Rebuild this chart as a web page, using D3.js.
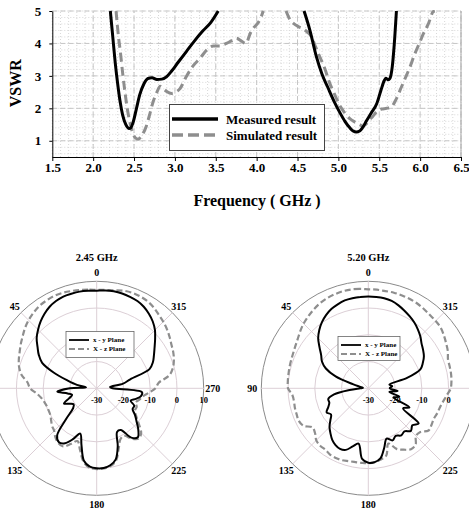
<!DOCTYPE html>
<html>
<head>
<meta charset="utf-8">
<script src="https://cdn.jsdelivr.net/npm/d3@7"></script>
<style>
  body { margin: 0; background: #fff; }
  svg { display: block; font-family: "Liberation Serif", "Times New Roman", serif; font-weight: bold; }
</style>
</head>
<body>
<div id="chart"></div>
<script>

// ---- VSWR data: [frequency GHz, VSWR] ----
var measuredLow = [[2.21,5.0],[2.24,4.2],[2.27,3.4],[2.30,2.75],[2.33,2.2],[2.36,1.8],[2.40,1.5],[2.44,1.38],
  [2.46,1.4],[2.49,1.58],[2.53,2.0],[2.57,2.42],[2.62,2.75],[2.67,2.92],[2.72,2.94],[2.78,2.89],[2.84,2.9],
  [2.90,2.98],[2.96,3.15],[3.04,3.42],[3.14,3.75],[3.24,4.08],[3.34,4.38],[3.44,4.65],[3.53,5.0]];
var measuredHigh = [[4.58,5.0],[4.65,4.42],[4.73,3.6],[4.80,3.05],[4.87,2.65],[4.95,2.2],[5.02,1.86],[5.08,1.6],
  [5.14,1.4],[5.18,1.3],[5.22,1.27],[5.26,1.3],[5.30,1.42],[5.34,1.6],[5.40,1.85],[5.47,2.15],[5.52,2.55],
  [5.56,2.85],[5.58,2.93],[5.61,2.88],[5.63,2.92],[5.66,3.3],[5.69,4.2],[5.71,5.0]];
var simulatedLow = [[2.28,5.0],[2.31,4.2],[2.33,3.8],[2.36,3.1],[2.39,2.48],[2.42,1.95],[2.45,1.56],[2.49,1.2],
  [2.52,1.08],[2.55,1.05],[2.59,1.15],[2.65,1.45],[2.69,1.8],[2.73,2.17],[2.78,2.5],[2.82,2.68],[2.86,2.6],
  [2.90,2.52],[2.96,2.46],[3.01,2.5],[3.06,2.6],[3.14,2.98],[3.22,3.3],[3.31,3.55],[3.39,3.8],[3.47,3.92],
  [3.55,3.92],[3.63,4.0],[3.69,4.08],[3.75,4.16],[3.81,4.08],[3.87,4.0],[3.92,4.3],[3.97,4.5],[4.02,4.65],
  [4.06,4.85],[4.08,5.0]];
var simulatedHigh = [[4.36,5.0],[4.41,4.72],[4.45,4.62],[4.51,4.52],[4.57,4.45],[4.62,4.35],[4.67,4.21],[4.72,3.9],
  [4.77,3.6],[4.83,3.25],[4.89,2.8],[4.95,2.45],[5.02,2.07],[5.08,1.85],[5.14,1.68],[5.20,1.58],[5.26,1.5],
  [5.30,1.45],[5.34,1.52],[5.38,1.65],[5.42,1.75],[5.47,1.9],[5.53,1.98],[5.59,2.0],[5.65,2.05],[5.71,2.3],
  [5.77,2.65],[5.83,3.0],[5.88,3.3],[5.93,3.65],[5.99,4.0],[6.04,4.3],[6.10,4.6],[6.16,4.98],[6.18,5.0]];

var freqTicks = [1.5, 2.0, 2.5, 3.0, 3.5, 4.0, 4.5, 5.0, 5.5, 6.0, 6.5];
var vswrTicks = [1, 2, 3, 4, 5];
var legendLabels = ["Measured result", "Simulated result"];

// ---- radiation patterns (dB), sampled every 5 degrees, angle counter-clockwise from top ----
var patternAngles = d3.range(0, 360, 5);
var xy245 = [6.5,6.6,6.7,6.6,6.5,6.0,5.2,4.0,2.6,1.0,-0.7,-3.0,-5.0,-7.5,-13,-18.8,-22.5,-26,
  -20,-15.2,-19,-20.5,-19,-16.5,-18.5,-19.5,-18.5,-14,-7,-5.4,-6.3,-9,-12,-8,-2.5,-0.6,
  -0.1,-0.1,-0.8,-2.5,-7,-12,-12,-7.5,-6.1,-8,-10.5,-12.5,-14.5,-14.5,-16.5,-14.8,-13.2,-13,
  -24,-25,-20,-17,-9,-6.8,-5.3,-3.6,-1.5,0.8,2.6,4.0,5.2,6.0,6.4,6.7,6.8,6.7];
var xz245 = [6.8,7.0,7.3,7.6,7.9,8.0,7.8,7.5,6.8,6.0,5.0,3.8,2.8,1.8,1.0,0,-1.5,-4,
  -5.1,-7.5,-9,-9.8,-10.2,-10.2,-10,-9.2,-8.2,-7.5,-6,-5,-4.9,-7,-9,-6,-2,-0.2,
  0.2,0.1,-0.5,-2,-6,-9,-9.5,-7,-5.5,-6.5,-9.5,-12,-13.5,-13.5,-14.5,-13.5,-12.5,-10.5,
  -8,-6.8,-2.5,-0.5,0.7,1.6,2.3,3.3,4.3,5.2,6.0,7.0,7.7,8.0,8.1,7.8,7.2,6.9];
var xy520 = [4.3,4.3,4.2,4.0,3.4,2.7,1.6,0.2,-1.5,-3.5,-6.2,-8.5,-10,-12.5,-17,-24,-27,-28,
  -27,-23,-17,-14.5,-14.5,-13.5,-12,-13,-11.5,-9.5,-8,-6.5,-5.5,-5,-5.5,-7.5,-9,-3.5,
  -2.2,-2.3,-3.5,-7,-10,-8.5,-9.5,-8.5,-9,-7.5,-8.5,-7,-15,-13,-20,-18,-22,-19,
  -22,-21,-22,-15,-9.3,-7.5,-6,-5,-4,-2.5,-1.2,0,1,2,3,3.8,4.2,4.3];
var xz520 = [7.0,7.3,7.5,7.5,7.3,7.0,6.5,5.8,5.0,4.2,3.2,2.2,1.5,1.0,0.7,0.5,0.3,0.2,
  0,-1.5,-1.8,-1.6,-1.5,-1.3,-2,-4.5,-4,-2.5,-2,-2,-1.4,-1.3,-1.4,-1.8,-2,-2,
  -2,-2.3,-3,-4,-8,-5,-3.5,-2.2,-2.5,-4.8,-4.6,-2.5,-2.7,-3,-2.6,-2.3,-1.6,-0.5,
  0.8,1.2,1.4,1.5,1.7,2.8,3.6,4.5,5.3,5.6,5.8,6.2,6.6,6.8,6.9,7.0,6.9,7.0];

var angleTicks = [0, 45, 90, 135, 180, 225, 270, 315];
var dbTicks = [-30, -20, -10, 0, 10];
var patternLegend = ["x - y Plane", "X - z Plane"];

var serif = '"Liberation Serif", "Times New Roman", serif';
var grey = "#8e8e8e";
var W = 469, H = 514;

var svg = d3.select("#chart").append("svg")
  .attr("width", W)
  .attr("height", H);

svg.append("rect").attr("width", W).attr("height", H).attr("fill", "#fff");

// ================= VSWR chart =================
var x = d3.scaleLinear().domain([1.5, 6.5]).range([52.3, 461]);
var y = d3.scaleLinear().domain([0.5, 5]).range([157, 11]);

var grid = svg.append("g");
// minor dotted grid
grid.selectAll(".vmin")
  .data(d3.range(15, 66).map(function(d) { return d / 10; }))
  .join("line")
    .attr("x1", function(d) { return x(d); }).attr("x2", function(d) { return x(d); })
    .attr("y1", y(0.5)).attr("y2", y(5))
    .attr("stroke", "#d8d8d8").attr("stroke-dasharray", "1,2");
grid.selectAll(".hmin")
  .data(d3.range(3, 26).map(function(d) { return d / 5; }))
  .join("line")
    .attr("x1", x(1.5)).attr("x2", x(6.5))
    .attr("y1", function(d) { return y(d); }).attr("y2", function(d) { return y(d); })
    .attr("stroke", "#d8d8d8").attr("stroke-dasharray", "1,2");
// major dashed grid
grid.append("g").selectAll("line")
  .data(freqTicks.slice(1))
  .join("line")
    .attr("x1", function(d) { return x(d); }).attr("x2", function(d) { return x(d); })
    .attr("y1", y(0.5)).attr("y2", y(5))
    .attr("stroke", "#c6c6c6").attr("stroke-dasharray", "5,3");
grid.append("g").selectAll("line")
  .data(vswrTicks)
  .join("line")
    .attr("x1", x(1.5)).attr("x2", x(6.5))
    .attr("y1", function(d) { return y(d); }).attr("y2", function(d) { return y(d); })
    .attr("stroke", "#c6c6c6").attr("stroke-dasharray", "5,3");
grid.append("line")
  .attr("x1", x(6.5)).attr("x2", x(6.5)).attr("y1", y(0.5)).attr("y2", y(5))
  .attr("stroke", "#aaa");

// curves
svg.append("clipPath").attr("id", "plotclip")
  .append("rect")
    .attr("x", x(1.5)).attr("y", y(5) - 1)
    .attr("width", x(6.5) - x(1.5)).attr("height", y(0.5) - y(5) + 1);

var line = d3.line()
  .x(function(d) { return x(d[0]); })
  .y(function(d) { return y(d[1]); })
  .curve(d3.curveMonotoneX);

var curves = svg.append("g").attr("clip-path", "url(#plotclip)");
[simulatedLow, simulatedHigh].forEach(function(s) {
  curves.append("path").datum(s)
    .attr("fill", "none").attr("stroke", grey).attr("stroke-width", 3)
    .attr("stroke-dasharray", "9,5").attr("d", line);
});
[measuredLow, measuredHigh].forEach(function(s) {
  curves.append("path").datum(s)
    .attr("fill", "none").attr("stroke", "#000").attr("stroke-width", 3)
    .attr("d", line);
});

// axes
svg.append("g")
  .attr("transform", "translate(0," + y(0.5) + ")")
  .call(d3.axisBottom(x).tickValues(freqTicks).tickFormat(d3.format(".1f"))
    .tickSize(4).tickSizeOuter(0).tickPadding(2))
  .attr("font-family", serif).attr("font-size", 13).attr("font-weight", "bold");

svg.append("g")
  .attr("transform", "translate(" + x(1.5) + ",0)")
  .call(d3.axisLeft(y).tickValues(vswrTicks).tickFormat(d3.format("d"))
    .tickSize(3).tickSizeOuter(0).tickPadding(8))
  .attr("font-family", serif).attr("font-size", 13).attr("font-weight", "bold");

svg.append("text")
  .attr("transform", "translate(21,83.3) rotate(-90)")
  .attr("text-anchor", "middle").attr("font-size", 16)
  .text("VSWR");

svg.append("text")
  .attr("x", 257).attr("y", 206)
  .attr("text-anchor", "middle").attr("font-size", 16)
  .text("Frequency ( GHz )");

// legend
var leg = svg.append("g");
leg.append("rect")
  .attr("x", 169.5).attr("y", 104.5).attr("width", 155).attr("height", 46)
  .attr("fill", "#fff").attr("stroke", "#444");
legendLabels.forEach(function(lab, i) {
  var ly = 119 + i * 16;
  leg.append("line")
    .attr("x1", 172).attr("x2", 218).attr("y1", ly).attr("y2", ly)
    .attr("stroke", i ? grey : "#000").attr("stroke-width", 3.5)
    .attr("stroke-dasharray", i ? "11,5" : null);
  leg.append("text")
    .attr("x", 226).attr("y", ly + 4.5).attr("font-size", 13)
    .text(lab);
});

// ================= radiation patterns =================
function drawPolar(cx, cy, title, xy, xz, box) {
  var R = 107;
  var r = d3.scaleLinear().domain([-30, 10]).range([0, R]).clamp(true);
  var rad = function(a) { return a * Math.PI / 180; };
  // labels that would fall outside the picture are not drawn (they are cut in the original too)
  var inside = function(px) { return cx + px > 8 && cx + px < W - 8; };

  var g = svg.append("g").attr("transform", "translate(" + cx + "," + cy + ")");

  g.selectAll(".ring")
    .data(dbTicks.slice(1))
    .join("circle")
      .attr("r", function(d) { return r(d); })
      .attr("fill", "none")
      .attr("stroke", function(d) { return d === 10 ? "#8a8a8a" : "#dccfd6"; });

  g.selectAll(".spoke")
    .data(angleTicks)
    .join("line")
      .attr("x2", function(d) { return -R * Math.sin(rad(d)); })
      .attr("y2", function(d) { return -R * Math.cos(rad(d)); })
      .attr("stroke", "#dccfd6");

  g.selectAll(".alab")
    .data(angleTicks.filter(function(d) { return inside(-116 * Math.sin(rad(d))); }))
    .join("text")
      .attr("x", function(d) { return -116 * Math.sin(rad(d)); })
      .attr("y", function(d) { return -116 * Math.cos(rad(d)) + 4; })
      .attr("text-anchor", "middle").attr("font-size", 10)
      .text(function(d) { return d; });

  g.selectAll(".rlab")
    .data(dbTicks.filter(function(d) { return inside(r(d)); }))
    .join("text")
      .attr("x", function(d) { return r(d); })
      .attr("y", 15)
      .attr("text-anchor", "middle").attr("font-size", 8.5)
      .text(function(d) { return d; });

  var radial = d3.lineRadial()
    .angle(function(d, i) { return -rad(patternAngles[i]); })
    .radius(function(d) { return r(d); })
    .curve(d3.curveCatmullRomClosed);

  g.append("path").datum(xz)
    .attr("fill", "none").attr("stroke", grey).attr("stroke-width", 2.2)
    .attr("stroke-dasharray", "6,3").attr("d", radial);
  g.append("path").datum(xy)
    .attr("fill", "none").attr("stroke", "#000").attr("stroke-width", 2)
    .attr("d", radial);

  // legend
  var lg = svg.append("g");
  lg.append("rect")
    .attr("x", box.x).attr("y", box.y).attr("width", box.w).attr("height", box.h)
    .attr("fill", "#fff").attr("stroke", "#666").attr("stroke-width", 0.8);
  patternLegend.forEach(function(lab, i) {
    var ly = box.y + 8.5 + i * 9;
    lg.append("line")
      .attr("x1", box.x + 3).attr("x2", box.x + 23).attr("y1", ly).attr("y2", ly)
      .attr("stroke", i ? grey : "#000").attr("stroke-width", 1.8)
      .attr("stroke-dasharray", i ? "6,3" : null);
    lg.append("text")
      .attr("x", box.x + 27).attr("y", ly + 2.3).attr("font-size", 7)
      .text(lab);
  });

  svg.append("text")
    .attr("x", cx).attr("y", 260.5)
    .attr("text-anchor", "middle").attr("font-size", 10.5)
    .text(title);
}

drawPolar(96.7, 388.3, "2.45 GHz", xy245, xz245, {x: 66, y: 331.5, w: 68, h: 26});
drawPolar(368.3, 388.3, "5.20 GHz", xy520, xz520, {x: 338, y: 336.5, w: 62, h: 24});

</script>
</body>
</html>
